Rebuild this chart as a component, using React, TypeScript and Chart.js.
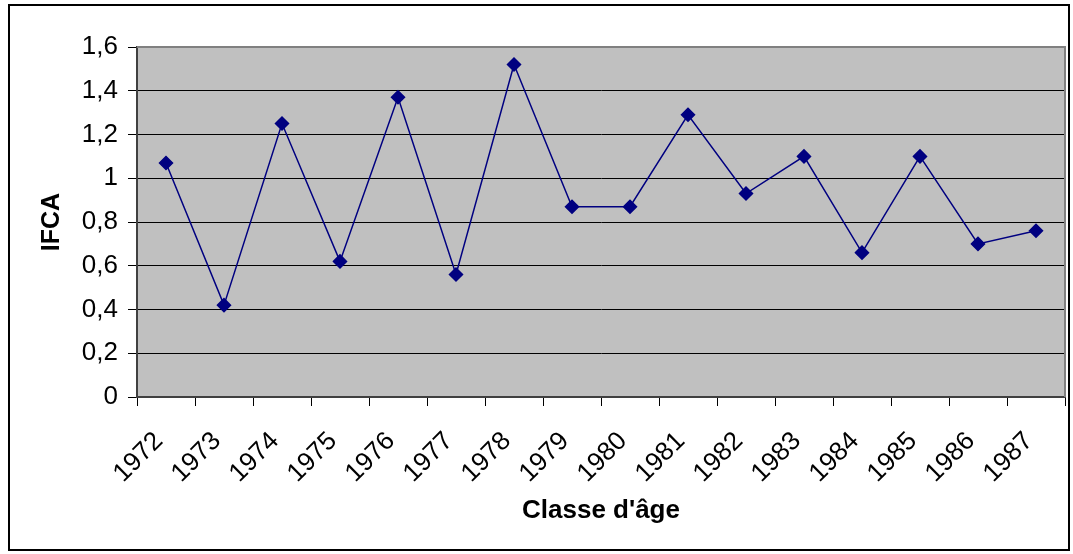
import React, { useEffect, useRef } from "react";
import { Chart, registerables } from "chart.js";

Chart.register(...registerables);

const years = ["1972","1973","1974","1975","1976","1977","1978","1979","1980","1981","1982","1983","1984","1985","1986","1987"];
const ifca = [1.07, 0.42, 1.25, 0.62, 1.37, 0.56, 1.52, 0.87, 0.87, 1.29, 0.93, 1.10, 0.66, 1.10, 0.70, 0.76];
const yTitle = "IFCA";
const xTitle = "Classe d'âge";

const plotBg = {
  id: "plotBg",
  beforeDraw(chart: any) {
    const { ctx, chartArea: a } = chart;
    ctx.save();
    ctx.fillStyle = "#C0C0C0";
    ctx.fillRect(a.left, a.top, a.right - a.left, a.bottom - a.top);
    ctx.restore();
  },
  beforeDatasetsDraw(chart: any) {
    const { ctx, chartArea: a } = chart;
    ctx.save();
    ctx.strokeStyle = "#808080";
    ctx.lineWidth = 2;
    ctx.beginPath();
    ctx.moveTo(a.left, a.top);
    ctx.lineTo(a.right, a.top);
    ctx.lineTo(a.right, a.bottom);
    ctx.stroke();
    ctx.restore();
  },
};

export default function App() {
  const ref = useRef<HTMLCanvasElement>(null);
  useEffect(() => {
    const chart = new Chart(ref.current!, {
      type: "line",
      data: {
        labels: years,
        datasets: [
          {
            data: ifca,
            borderColor: "#000080",
            backgroundColor: "#000080",
            borderWidth: 1.5,
            pointStyle: "rectRot",
            pointRadius: 6.5,
            pointHoverRadius: 6.5,
            tension: 0,
          },
        ],
      },
      options: {
        animation: false,
        responsive: false,
        events: [],
        layout: { padding: { top: 47, right: 7, left: 0, bottom: 0 } },
        plugins: { legend: { display: false }, tooltip: { enabled: false } },
        scales: {
          x: {
            offset: true,
            grid: { display: true, drawOnChartArea: false, offset: true, color: "#000", tickLength: 9, lineWidth: 1 },
            border: { display: true, color: "#404040", width: 2 },
            ticks: { minRotation: 45, maxRotation: 45, color: "#000", padding: 20, labelOffset: -7, font: { family: "Liberation Sans, Arial", size: 26 } },
            title: { display: true, text: xTitle, color: "#000", padding: { top: 0, bottom: 28 }, font: { family: "Liberation Sans, Arial", size: 26, weight: "bold" } },
            afterFit(scale: any) {
              scale.height = 157;
              scale.paddingLeft = 0;
              scale.paddingRight = 0;
            },
          },
          y: {
            min: 0,
            max: 1.6,
            ticks: {
              stepSize: 0.2,
              color: "#000",
              padding: 10,
              font: { family: "Liberation Sans, Arial", size: 26 },
              callback: (v: any) => String(Math.round(Number(v) * 10) / 10).replace(".", ","),
            },
            grid: { color: "#000", tickLength: 9, lineWidth: 1 },
            border: { display: true, color: "#404040", width: 2 },
            title: { display: true, text: yTitle, color: "#000", padding: { top: 37, bottom: 0 }, font: { family: "Liberation Sans, Arial", size: 25, weight: "bold" } },
            afterFit(scale: any) {
              scale.width = 137;
              scale.paddingTop = 0;
              scale.paddingBottom = 0;
            },
          },
        },
      },
      plugins: [plotBg],
    } as any);
    return () => chart.destroy();
  }, []);
  return (
    <div style={{ position: "fixed", left: 0, top: 0, width: 1073, height: 554, background: "#fff" }}>
      <canvas ref={ref} width={1073} height={554} style={{ position: "absolute", left: 0, top: 0 }} />
      <div style={{ position: "absolute", left: 8, top: 4, width: 1062, height: 547, border: "2px solid #000", boxSizing: "border-box", pointerEvents: "none" }} />
    </div>
  );
}
